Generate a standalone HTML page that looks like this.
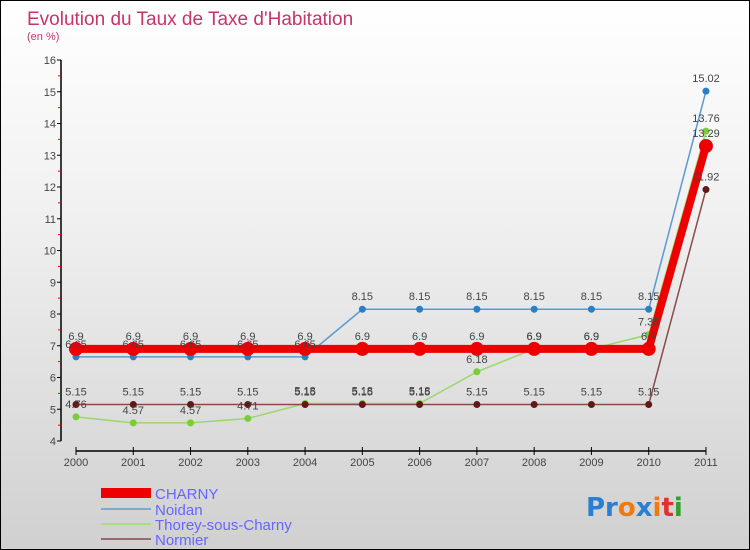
<!DOCTYPE html>
<html><head><meta charset="utf-8"><style>
body{margin:0}
#c{width:750px;height:550px;position:relative;box-sizing:border-box;border:1px solid #000;background:linear-gradient(#fff 0%,#f0f0f0 40%,#d0d0d0 100%);font-family:"Liberation Sans",sans-serif;overflow:hidden}
</style></head><body>
<div id="c">
<svg width="750" height="550" style="position:absolute;left:0;top:0" id="svg">
<text x="26" y="24" font-size="19" fill="#c8336a">Evolution du Taux de Taxe d'Habitation</text>
<text x="26" y="39" font-size="11" fill="#c8336a">(en %)</text>
<g id="axes"></g><g id="series"></g><g id="labels"></g>
<g>
<rect x="100" y="487" width="50" height="10" fill="#e00"/>
<text x="154" y="498" font-size="15" fill="#6666ff">CHARNY</text>
<line x1="100" y1="508" x2="150" y2="508" stroke="#7aaad0" stroke-width="2"/>
<text x="154" y="514" font-size="15" fill="#6666ff">Noidan</text>
<line x1="100" y1="523" x2="150" y2="523" stroke="#a6e07e" stroke-width="2"/>
<text x="154" y="529" font-size="15" fill="#6666ff">Thorey-sous-Charny</text>
<line x1="100" y1="538" x2="150" y2="538" stroke="#9a6a6a" stroke-width="2"/>
<text x="154" y="544" font-size="15" fill="#6666ff">Normier</text>
</g>
<text x="585" y="515" font-size="26" font-weight="bold" font-family="'DejaVu Sans',sans-serif"><tspan fill="#2a7fd4">Pr</tspan><tspan fill="#f07a10">o</tspan><tspan fill="#2a7fd4">x</tspan><tspan fill="#f07a10">i</tspan><tspan fill="#e03030">t</tspan><tspan fill="#30a030">i</tspan></text>
</svg>
</div>
<script>
const years=["2000","2001","2002","2003","2004","2005","2006","2007","2008","2009","2010","2011"];
const yTicks=[4,5,6,7,8,9,10,11,12,13,14,15,16];
const charny=[6.9,6.9,6.9,6.9,6.9,6.9,6.9,6.9,6.9,6.9,6.9,13.29];
const noidan=[6.65,6.65,6.65,6.65,6.65,8.15,8.15,8.15,8.15,8.15,8.15,15.02];
const thorey=[4.76,4.57,4.57,4.71,5.18,5.18,5.18,6.18,6.9,6.9,7.35,13.76];
const normier=[5.15,5.15,5.15,5.15,5.15,5.15,5.15,5.15,5.15,5.15,5.15,11.92];
const NS="http://www.w3.org/2000/svg";
const xs=i=>75+i*57.27;
const ys=v=>440-(v-4)*31.75;
function mk(tag,attrs,parent,txt){const e=document.createElementNS(NS,tag);for(const k in attrs)e.setAttribute(k,attrs[k]);if(txt!=null)e.textContent=txt;parent.appendChild(e);return e;}
const ax=document.getElementById('axes');
let e=mk('line',{x1:60,y1:59,x2:60,y2:440,stroke:'#000','stroke-width':1.5},ax);


e=mk('line',{x1:75,y1:450,x2:705,y2:450,stroke:'#000','stroke-width':1.5},ax);


yTicks.forEach((v,i)=>{
 mk('line',{x1:56,y1:ys(v),x2:60,y2:ys(v),stroke:'#000'},ax);
 if(i<yTicks.length-1) mk('line',{x1:57,y1:ys(v+0.5),x2:60,y2:ys(v+0.5),stroke:'#e00'},ax);
 const t=mk('text',{x:55,y:ys(v)+4,'font-size':11,fill:'#444','text-anchor':'end'},ax,String(v));
 
 
});
years.forEach((y,i)=>{
 mk('line',{x1:xs(i),y1:446,x2:xs(i),y2:454,stroke:'#000'},ax);
 const t=mk('text',{x:xs(i),y:465,'font-size':11,fill:'#444','text-anchor':'middle'},ax,y);
 
 
});
const sg=document.getElementById('series'),lg=document.getElementById('labels');
function draw(name,vals,color,w,r,dot){
 const g=mk('g',{},sg);
 
 
 const p=mk('polyline',{points:vals.map((v,i)=>xs(i)+','+ys(v)).join(' '),fill:'none',stroke:color,'stroke-width':w},g);
 
 
 vals.forEach((v,i)=>{
  const c=mk('circle',{cx:xs(i),cy:ys(v),r:r,fill:dot},g);
  
  
  const t=mk('text',{x:xs(i),y:ys(v)-9,'font-size':11,fill:'#444','text-anchor':'middle'},lg,String(v));
  
  
 });
}
draw('noidan',noidan,'#5a9ad0',1.5,3.5,'#2a80c8');
draw('thorey',thorey,'#9ad86a',1.5,3.5,'#7acc3a');
draw('normier',normier,'#8a4a4a',1.5,3.5,'#601818');
draw('charny',charny,'#ee0000',8,7,'#ee0000');
</script>
</body></html>
